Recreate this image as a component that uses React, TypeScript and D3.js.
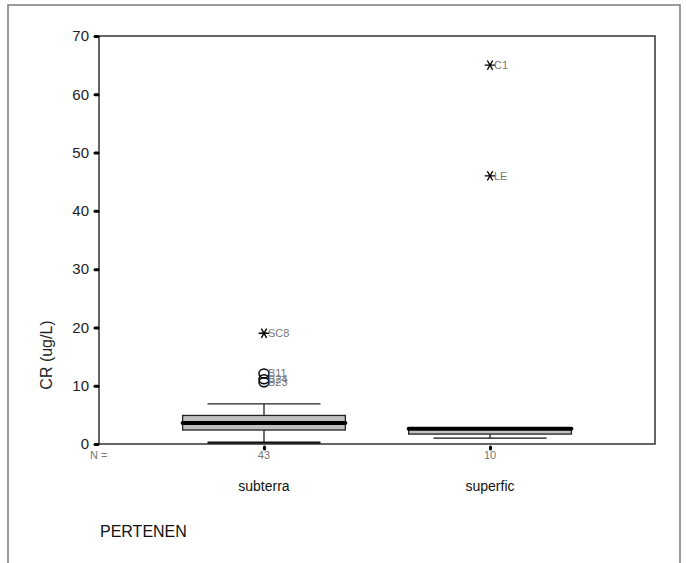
import { useEffect, useRef } from "react";
import * as d3 from "d3";

const categories = ["subterra", "superfic"];
const counts = [43, 10];
const whiskerLow = [0.2, 1.0];
const q1 = [2.4, 1.7];
const median = [3.6, 2.6];
const q3 = [4.9, 2.7];
const whiskerHigh = [6.9, 2.7];

const outlierCats = ["subterra", "subterra", "subterra", "subterra", "superfic", "superfic"];
const outlierValues = [19, 12.1, 11.1, 10.6, 65, 46];
const outlierLabels = ["SC8", "B11", "B24", "B23", "C1", "LE"];
const outlierKinds = ["extreme", "outlier", "outlier", "outlier", "extreme", "extreme"];

const yTicks = [0, 10, 20, 30, 40, 50, 60, 70];

const W = 686;
const H = 563;
const plot = { left: 99, top: 36, right: 655, bottom: 444 };
const font = "'Liberation Sans', Arial, sans-serif";

export default function App() {
  const axisRef = useRef<SVGGElement | null>(null);
  const xAxisRef = useRef<SVGGElement | null>(null);

  const y = d3.scaleLinear().domain([0, 70]).range([plot.bottom, plot.top]);
  const x = d3.scalePoint<string>().domain(categories).range([plot.left, plot.right]).padding(0.73);
  const step = x.step();
  const boxW = step * 0.72;
  const capW = step * 0.5;

  useEffect(() => {
    if (!axisRef.current || !xAxisRef.current) return;
    const g = d3.select(axisRef.current);
    g.selectAll("*").remove();
    g.call(d3.axisLeft(y).tickValues(yTicks).tickSize(3).tickPadding(6))
      .call((a) => a.select(".domain").remove())
      .call((a) => a.selectAll("line").attr("stroke", "#000").attr("stroke-width", 3).attr("stroke-linecap", "round"))
      .call((a) =>
        a.selectAll("text").attr("fill", "#222").style("font-family", font).style("font-size", "15px"),
      );

    const gx = d3.select(xAxisRef.current);
    gx.selectAll("*").remove();
    gx.call(d3.axisBottom(x).tickSize(2).tickFormat(() => ""))
      .call((a) => a.select(".domain").remove())
      .call((a) => a.selectAll("line").attr("stroke", "#000").attr("stroke-width", 3).attr("stroke-linecap", "round").attr("transform", "translate(0,3)"));
  }, []);

  const star = d3.symbol().type(d3.symbolAsterisk).size(80)();

  return (
    <div style={{ position: "fixed", left: 0, top: 0, width: W, height: H, background: "#fff" }}>
      <svg width={W} height={H} style={{ display: "block" }}>
        <rect x={8} y={5} width={672} height={570} fill="#fff" stroke="#7a7a7a" strokeWidth={1.5} />

        {categories.map((c, i) => {
          const cx = x(c) ?? 0;
          return (
            <g key={c}>
              <line x1={cx} x2={cx} y1={y(whiskerHigh[i])} y2={y(q3[i])} stroke="#222" strokeWidth={1.3} />
              <line x1={cx} x2={cx} y1={y(whiskerLow[i])} y2={y(q1[i])} stroke="#222" strokeWidth={1.3} />
              <line x1={cx - capW / 2} x2={cx + capW / 2} y1={y(whiskerHigh[i])} y2={y(whiskerHigh[i])} stroke="#222" strokeWidth={1.3} />
              <line x1={cx - capW / 2} x2={cx + capW / 2} y1={y(whiskerLow[i])} y2={y(whiskerLow[i])} stroke="#111" strokeWidth={i === 0 ? 2.5 : 1.3} />
              <rect
                x={cx - boxW / 2}
                y={y(q3[i])}
                width={boxW}
                height={y(q1[i]) - y(q3[i])}
                fill="#c0c0c0"
                stroke="#222"
                strokeWidth={1.3}
              />
              <line
                x1={cx - boxW / 2}
                x2={cx + boxW / 2}
                y1={y(median[i])}
                y2={y(median[i])}
                stroke="#000"
                strokeWidth={4}
                strokeLinecap="round"
              />
            </g>
          );
        })}

        {outlierValues.map((v, i) => {
          const cx = x(outlierCats[i]) ?? 0;
          const cy = y(v);
          return (
            <g key={outlierLabels[i]}>
              {outlierKinds[i] === "extreme" ? (
                <path d={star ?? ""} transform={`translate(${cx},${cy}) rotate(90)`} fill="none" stroke="#000" strokeWidth={1.4} />
              ) : (
                <ellipse cx={cx} cy={cy} rx={5} ry={4.5} fill="none" stroke="#000" strokeWidth={1.5} />
              )}
              <text x={cx + 4} y={cy + 4} fill="#777" style={{ fontFamily: font, fontSize: "11px" }}>
                {outlierLabels[i]}
              </text>
            </g>
          );
        })}

        <rect
          x={plot.left}
          y={plot.top}
          width={plot.right - plot.left}
          height={plot.bottom - plot.top}
          fill="none"
          stroke="#333"
          strokeWidth={1.5}
        />
        <g ref={axisRef} transform={`translate(${plot.left - 1},0)`} />
        <g ref={xAxisRef} transform={`translate(0,${plot.bottom})`} />

        <text x={90} y={459} fill="#777" style={{ fontFamily: font, fontSize: "11px" }}>
          N =
        </text>
        {categories.map((c, i) => (
          <g key={`lab-${c}`}>
            <text x={x(c)} y={459} textAnchor="middle" fill="#777" style={{ fontFamily: font, fontSize: "11px" }}>
              {counts[i]}
            </text>
            <text x={x(c)} y={491} textAnchor="middle" fill="#111" style={{ fontFamily: font, fontSize: "14px" }}>
              {c}
            </text>
          </g>
        ))}

        <text
          transform="translate(52,355) rotate(-90)"
          textAnchor="middle"
          fill="#222"
          style={{ fontFamily: font, fontSize: "16px" }}
        >
          CR (ug/L)
        </text>
        <text x={100} y={537} fill="#111" style={{ fontFamily: font, fontSize: "16px" }}>
          PERTENEN
        </text>
      </svg>
    </div>
  );
}
